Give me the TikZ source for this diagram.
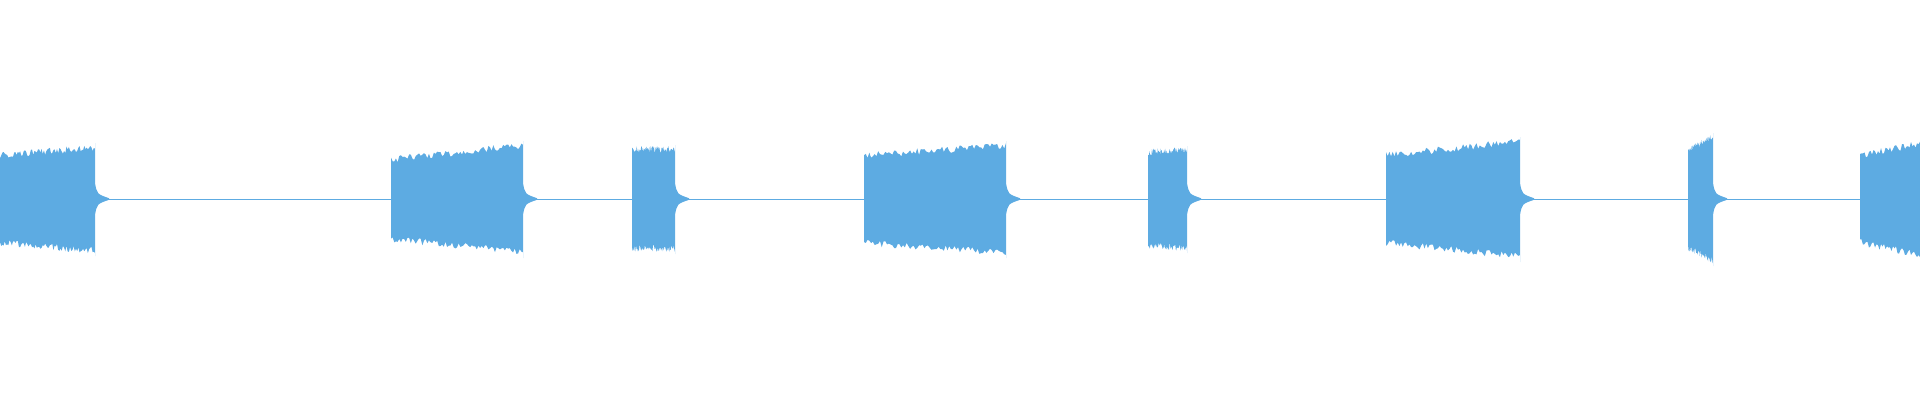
\documentclass[tikz,border=0pt]{standalone}
\usepackage{tikz}

\definecolor{wave}{RGB}{93,171,226}
\tikzset{wavefill/.style={fill=wave,draw=none}}
% one burst: start, end, half height at start, half height at end
\newcommand{\burst}[4]{%
  \fill[wavefill] (#1,199)
    foreach \i in {0,...,80} {
      -- ({#1+(#2-#1)*\i/80},{199-(#3+(#4-#3)*\i/80)-7*rnd})
    }
    -- (#2,{199-#4-8}) -- (#2,{199-16})
    .. controls ({#2+2},194) .. ({#2+14},198.2)
    -- ({#2+14},199.8)
    .. controls ({#2+2},204) .. (#2,{199+16})
    -- (#2,{199+#4+9})
    foreach \i in {80,...,0} {
      -- ({#1+(#2-#1)*\i/80},{199+(#3+(#4-#3)*\i/80)+7*rnd})
    }
    -- cycle;}

\begin{document}
\begin{tikzpicture}[x=1pt,y=-1pt]
\useasboundingbox (0,0) rectangle (1920,400);
\pgfmathsetseed{7}
\draw[wave,line width=0.8pt] (0,199) -- (1920,199);
\burst{0}{95}{40}{48}
\burst{391}{523}{36}{50}
\burst{632}{675}{46}{46}
\burst{864}{1006}{40}{50}
\burst{1148}{1187}{43}{45}
\burst{1386}{1520}{40}{54}
\burst{1688}{1713}{45}{58}
\fill[wavefill] (1860,199)
  foreach \i in {0,...,40} {
    -- ({1860+60*\i/40},{199-(40+12*\i/40)-7*rnd})
  }
  -- (1920,{199+52+6})
  foreach \i in {40,...,0} {
    -- ({1860+60*\i/40},{199+(40+12*\i/40)+7*rnd})
  }
  -- cycle;
\end{tikzpicture}
\end{document}
